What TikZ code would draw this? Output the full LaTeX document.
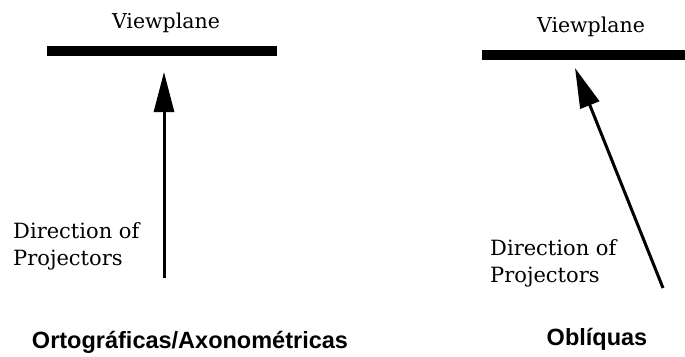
\documentclass[tikz,border=0pt]{standalone}
\usepackage{fontspec}
\setmainfont{DejaVu Serif}
\newfontfamily\labelfont{Liberation Sans}
\usetikzlibrary{arrows.meta}
\begin{document}
\begin{tikzpicture}[x=1pt,y=-1pt,
  plane/.style={line width=10pt},
  proj/.style={line width=3pt,-{Triangle[length=40pt,width=20pt]}},
  serif/.style={font=\fontsize{20.5}{27}\selectfont, inner sep=0pt},
  dirtext/.style={font=\fontsize{21}{27}\selectfont, inner sep=0pt, anchor=base west, align=left},
  caption/.style={font=\labelfont\bfseries\fontsize{23.5}{28}\selectfont, inner sep=0pt, anchor=base}]
\useasboundingbox (0,0) rectangle (685,356);
% left panel
\coordinate (lpa) at (47,51);
\coordinate (lpb) at (277,51);
\draw[plane] (lpa) -- (lpb);
\node[serif, anchor=base] (lvp) at (166,28) {Viewplane};
\coordinate (lfrom) at (164,278);
\coordinate (lto) at (164,72);
\draw[proj] (lfrom) -- (lto);
\node[dirtext] (ldir) at (13,265) {Direction of\\Projectors};
\node[caption] (lcap) at (190,348) {Ortográficas/Axonométricas};
% right panel
\coordinate (rpa) at (482,55);
\coordinate (rpb) at (685,55);
\draw[plane] (rpa) -- (rpb);
\node[serif, anchor=base] (rvp) at (591,32) {Viewplane};
\coordinate (rfrom) at (663,288);
\coordinate (rto) at (575,68);
\draw[proj] (rfrom) -- (rto);
\node[dirtext] (rdir) at (490,282) {Direction of\\Projectors};
\node[caption] (rcap) at (597,345) {Oblíquas};
\end{tikzpicture}
\end{document}
